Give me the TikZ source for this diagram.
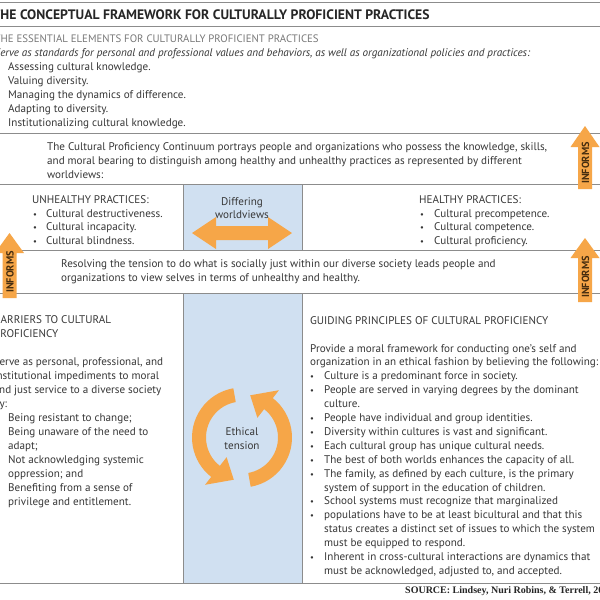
\documentclass[tikz,border=0pt]{standalone}
\usepackage{fontspec}
\setmainfont{PT Sans}
\newfontfamily\srcfont{Liberation Serif}
\definecolor{rulegray}{RGB}{140,140,140}
\definecolor{colblue}{RGB}{208,224,241}
\definecolor{arrowor}{RGB}{246,166,72}
\definecolor{txtcol}{RGB}{55,55,55}
\definecolor{headgray}{RGB}{120,120,120}
\definecolor{informcol}{RGB}{70,45,15}
\begin{document}
\begin{tikzpicture}[x=1pt,y=-1pt,
  rule/.style={draw=rulegray,line width=0.8pt},
  txt/.style={anchor=base west,inner sep=0pt,text=txtcol,font=\fontsize{11.1}{14}\selectfont},
  ctxt/.style={anchor=base,inner sep=0pt,text=txtcol,font=\fontsize{11.1}{14}\selectfont},
  bul/.style={anchor=base,inner sep=0pt,text=txtcol,font=\fontsize{8.5}{14}\selectfont},
  orarrow/.style={fill=arrowor,draw=none},
  inform/.style={inner sep=0pt,rotate=90,text=informcol,font=\fontsize{10.3}{11}\selectfont\bfseries}]
\useasboundingbox (0,0) rectangle (600,600);
\clip (0,0) rectangle (600,600);
\fill[white] (0,0) rectangle (600,600);
% blue columns
\fill[colblue] (183,184) rectangle (302,250);
\fill[colblue] (183,293) rectangle (302,583);
% rules
\foreach \yy [count=\i] in {2,26,133,184,250,293,583}
  \draw[rule] (0,\yy) -- (600,\yy);
\draw[rule] (183,184) -- (183,250);
\draw[rule] (302,184) -- (302,250);
\draw[rule] (183,293) -- (183,583);
\draw[rule] (302,293) -- (302,583);
% title block
\node[txt,anchor=base west,text=black!85,font=\fontsize{13.7}{16}\selectfont\bfseries] (title) at (-7.5,19) {THE CONCEPTUAL FRAMEWORK FOR CULTURALLY PROFICIENT PRACTICES};
\node[txt,text=headgray,font=\fontsize{10.8}{14}\selectfont] (esshead) at (-5.5,42) {THE ESSENTIAL ELEMENTS FOR CULTURALLY PROFICIENT PRACTICES};
\node[txt,font=\fontsize{11.1}{14}\selectfont\itshape] (essital) at (-5.5,56) {Serve as standards for personal and professional values and behaviors, as well as organizational policies and practices:};
\foreach \t [count=\i from 0] in {{Assessing cultural knowledge.},{Valuing diversity.},{Managing the dynamics of difference.},{Adapting to diversity.},{Institutionalizing cultural knowledge.}}
  \node[txt] (ess\i) at (8,70+14*\i) {\t};
% continuum
\foreach \t [count=\i from 0] in {{The Cultural Proficiency Continuum portrays people and organizations who possess the knowledge, skills,},{and moral bearing to distinguish among healthy and unhealthy practices as represented by different},{worldviews:}}
  \node[txt] (cont\i) at (47,150+14*\i) {\t};
% practices
\node[txt] (unh) at (32,203.5) {UNHEALTHY PRACTICES:};
\foreach \t [count=\i from 0] in {{Cultural destructiveness.},{Cultural incapacity.},{Cultural blindness.}}{
  \node[bul] (ub\i) at (35,217+13.5*\i) {•};
  \node[txt] (ut\i) at (46,217+13.5*\i) {\t};}
\node[txt] (hea) at (419,203.5) {HEALTHY PRACTICES:};
\foreach \t [count=\i from 0] in {{Cultural precompetence.},{Cultural competence.},{Cultural proficiency.}}{
  \node[bul] (hb\i) at (422,217+13.5*\i) {•};
  \node[txt] (ht\i) at (434,217+13.5*\i) {\t};}
\node[ctxt] (diff1) at (242,205) {Differing};
\node[ctxt] (diff2) at (242,218.5) {worldviews};
\fill[orarrow] (192,233) -- (216,217) -- (216,226) -- (268,226) -- (268,217) -- (292,233) -- (268,249) -- (268,240) -- (216,240) -- (216,249) -- cycle;
% resolving
\foreach \t [count=\i from 0] in {{Resolving the tension to do what is socially just within our diverse society leads people and},{organizations to view selves in terms of unhealthy and healthy.}}
  \node[txt] (res\i) at (61,267+14*\i) {\t};
% INFORMS arrows
\fill[orarrow] (585,126) -- (599.5,147) -- (592,147) -- (592,189) -- (578,189) -- (578,147) -- (570.5,147) -- cycle;
\node[inform] (inf1) at (585.5,163) {INFORMS};
\fill[orarrow] (585,238) -- (599.5,258) -- (592,258) -- (592,302) -- (578,302) -- (578,258) -- (570.5,258) -- cycle;
\node[inform] (inf2) at (585.5,277) {INFORMS};
\fill[orarrow] (9.5,233) -- (24,253) -- (16.5,253) -- (16.5,298) -- (2.5,298) -- (2.5,253) -- (-5,253) -- cycle;
\node[inform] (inf3) at (10,272) {INFORMS};
% barriers
\node[txt] (bar0) at (-6,323) {BARRIERS TO CULTURAL};
\node[txt] (bar1) at (-6,337) {PROFICIENCY};
\foreach \t [count=\i from 0] in {{Serve as personal, professional, and},{institutional impediments to moral},{and just service to a diverse society},{by:}}
  \node[txt] (bp\i) at (-6.5,365+14*\i) {\t};
\foreach \t [count=\i from 0] in {{Being resistant to change;},{Being unaware of the need to},{adapt;},{Not acknowledging systemic},{oppression; and},{Benefiting from a sense of},{privilege and entitlement.}}
  \node[txt] (bi\i) at (8,421+14*\i) {\t};
% ethical tension
\begin{scope}[shift={(242,437.5)},yscale=-1]
  \fill[orarrow] (100:50) arc[start angle=100,end angle=232,radius=50] -- (232:60) -- (259:43) -- (232:25) -- (232:36) arc[start angle=232,end angle=100,radius=36] -- cycle;
  \begin{scope}[rotate=180]
  \fill[orarrow] (100:50) arc[start angle=100,end angle=232,radius=50] -- (232:60) -- (259:43) -- (232:25) -- (232:36) arc[start angle=232,end angle=100,radius=36] -- cycle;
  \end{scope}
\end{scope}
\node[ctxt] (eth1) at (242,435.5) {Ethical};
\node[ctxt] (eth2) at (242,449.5) {tension};
% guiding principles
\node[txt] (gp) at (310,324) {GUIDING PRINCIPLES OF CULTURAL PROFICIENCY};
\node[txt] (pr0) at (310,352) {Provide a moral framework for conducting one’s self and};
\node[txt] (pr1) at (310,365.9) {organization in an ethical fashion by believing the following:};
\foreach \t/\b [count=\i from 0] in {{Culture is a predominant force in society.}/1,{People are served in varying degrees by the dominant}/1,{culture.}/0,{People have individual and group identities.}/1,{Diversity within cultures is vast and significant.}/1,{Each cultural group has unique cultural needs.}/1,{The best of both worlds enhances the capacity of all.}/1,{The family, as defined by each culture, is the primary}/1,{system of support in the education of children.}/0,{School systems must recognize that marginalized}/1,{populations have to be at least bicultural and that this}/1,{status creates a distinct set of issues to which the system}/0,{must be equipped to respond.}/0,{Inherent in cross-cultural interactions are dynamics that}/1,{must be acknowledged, adjusted to, and accepted.}/0}{
  \node[txt] (gt\i) at (324,379.8+13.9*\i) {\t};
  \ifnum\b=1 \node[bul] (gb\i) at (312,379.8+13.9*\i) {•};\fi}
% source
\node[txt,text=black!85,font=\srcfont\fontsize{10}{11}\selectfont\bfseries] (src) at (405,593) {SOURCE: Lindsey, Nuri Robins, \& Terrell, 2009};
\end{tikzpicture}
\end{document}
